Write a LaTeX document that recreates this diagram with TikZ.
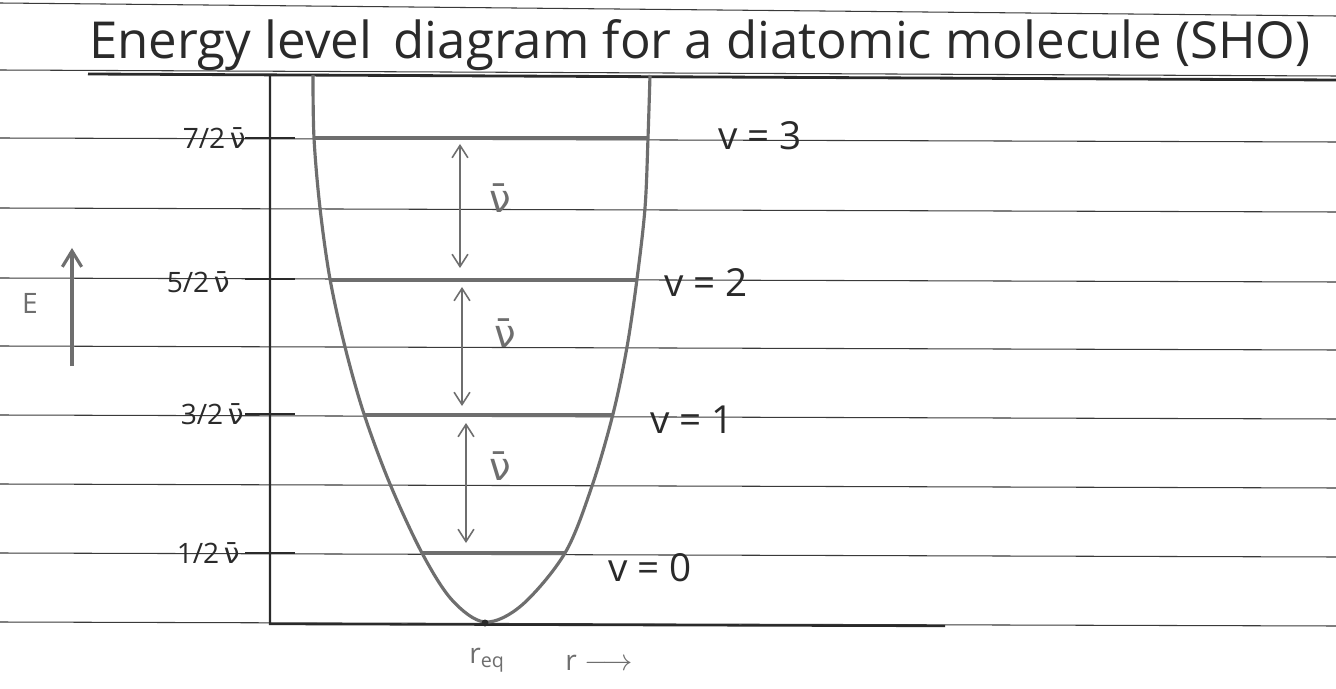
\documentclass[tikz,border=0pt]{standalone}
\usepackage{fontspec}
\setmainfont{Open Sans}
\newfontfamily\dvfont{DejaVu Sans}
\newcommand\nubar{{\dvfont ν̄}}
\usetikzlibrary{arrows.meta}
\definecolor{ink}{HTML}{2A2A2A}
\definecolor{pencil}{HTML}{6E6E6E}
\definecolor{rule}{HTML}{3A3A3A}
\begin{document}
\begin{tikzpicture}[x=0.02cm,y=-0.02cm,
  ruled/.style={draw=rule,line width=0.6pt},
  axisline/.style={draw=ink,line width=1.3pt},
  tickmark/.style={draw=ink,line width=1.6pt},
  levelline/.style={draw=pencil,line width=2pt},
  gap/.style={draw=pencil,line width=0.9pt,{Straight Barb[length=7pt,width=9pt]}-{Straight Barb[length=7pt,width=9pt]}},
  lab/.style={text=ink,inner sep=0pt,font=\fontsize{16}{19}\selectfont},
  vlab/.style={text=ink,inner sep=0pt,font=\fontsize{22}{26}\selectfont},
  nulab/.style={text=pencil,inner sep=0pt,font=\fontsize{22}{26}\selectfont}]
\useasboundingbox (0,0) rectangle (1336,689);
\fill[white] (0,0) rectangle (1336,689);
% ruled paper lines
\draw[ruled] (0,3) -- (1336,16);
\draw[ruled] (0,70) -- (1336,76);
\foreach \yy in {138,208,278,346,415,484,553,622}
  \draw[ruled] (0,\yy) -- (1336,\yy+4);
% title
\node[text=ink,inner sep=0pt,font=\fontsize{29}{34}\selectfont] (title) at (700,45) {Energy level\, diagram for a diatomic molecule (SHO)};
\draw[ink,line width=1.6pt] (88,74) -- (1336,80);
% axes
\coordinate (top) at (270,75);
\coordinate (origin) at (270,624);
\coordinate (xend) at (945,626);
\draw[axisline] (top) -- (origin) -- (xend);
% ticks and labels
\coordinate (t7) at (270,138);
\coordinate (t5) at (270,279);
\coordinate (t3) at (270,414);
\coordinate (t1) at (270,553);
\foreach \t in {t7,t5,t3,t1}
  \draw[tickmark] ([xshift=-14]\t) -- ([xshift=14]\t);
\node[lab,anchor=east] (l7) at (246,138) {7/2\,\nubar};
\node[lab,anchor=east] (l5) at (230,282) {5/2\,\nubar};
\node[lab,anchor=east] (l3) at (244,414) {3/2\,\nubar};
\node[lab,anchor=east] (l1) at (240,553) {1/2\,\nubar};
% E arrow
\coordinate (ebot) at (72,366);
\coordinate (etop) at (72,248);
\draw[draw=pencil,line width=1.8pt,-{Straight Barb[length=9pt,width=11pt]}] (ebot) -- (etop);
\node[lab,text=pencil] (E) at (30,303) {E};
% potential curve
\draw[pencil,line width=1.8pt] plot[smooth,tension=0.55] coordinates {
  (313,75) (314,138) (320,208) (330,279) (345,347) (364,414) (390,484)
  (422,553) (452,600) (485,622) (522,605) (565,553) (592,486) (613,414)
  (627,347) (637,279) (645,208) (648,138) (650,75)};
% levels
\coordinate (a3) at (314,138); \coordinate (b3) at (648,138);
\coordinate (a2) at (330,280); \coordinate (b2) at (637,280);
\coordinate (a1) at (365,415); \coordinate (b1) at (613,415);
\coordinate (a0) at (422,553); \coordinate (b0) at (565,553);
\draw[levelline] (a3) -- (b3);
\draw[levelline] (a2) -- (b2);
\draw[levelline] (a1) -- (b1);
\draw[levelline] (a0) -- (b0);
% spacing arrows
\coordinate (g3t) at (460,144); \coordinate (g3b) at (460,268);
\coordinate (g2t) at (462,287); \coordinate (g2b) at (462,406);
\coordinate (g1t) at (466,423); \coordinate (g1b) at (466,543);
\draw[gap] (g3t) -- (g3b);
\draw[gap] (g2t) -- (g2b);
\draw[gap] (g1t) -- (g1b);
\node[nulab] (n3) at (500,198) {\nubar};
\node[nulab] (n2) at (505,333) {\nubar};
\node[nulab] (n1) at (500,466) {\nubar};
% level labels
\node[vlab,anchor=west] (v3) at (718,136) {v = 3};
\node[vlab,anchor=west] (v2) at (664,283) {v = 2};
\node[vlab,anchor=west] (v1) at (650,420) {v = 1};
\node[vlab,anchor=west] (v0) at (608,568) {v = 0};
% bottom labels
\fill[ink] (485,623) circle (3.5);
\node[lab,text=pencil] (req) at (487,660) {r\textsubscript{eq}};
\node[lab,text=pencil,anchor=west] (r) at (565,663) {r $\longrightarrow$};
\end{tikzpicture}
\end{document}
